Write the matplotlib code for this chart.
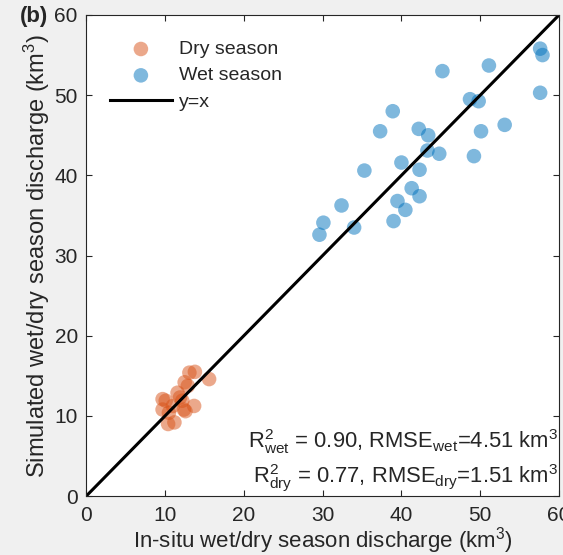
import matplotlib
matplotlib.use("Agg")
from matplotlib import pyplot as plt

# Wet season points (in-situ, simulated), km3
wet_obs = [57.6, 57.9, 57.6, 51.1, 45.2, 48.7, 49.8, 38.9, 37.3, 42.2, 43.4, 50.1, 53.1, 43.3,
           44.8, 49.2, 40.0, 35.3, 42.3, 41.3, 39.5, 42.3, 40.5, 32.4, 39.0, 30.1, 34.0, 29.6]
wet_sim = [55.8, 55.0, 50.3, 53.7, 53.0, 49.5, 49.25, 48.0, 45.5, 45.8, 45.0, 45.5, 46.3, 43.1,
           42.7, 42.4, 41.6, 40.6, 40.7, 38.4, 36.8, 37.4, 35.7, 36.25, 34.3, 34.1, 33.5, 32.6]

# Dry season points
dry_obs = [13.1, 13.8, 15.6, 12.5, 12.9, 11.6, 9.7, 10.1, 12.2, 11.0, 9.7, 13.7, 12.6, 10.5,
           11.2, 10.4, 12.4, 11.9]
dry_sim = [15.4, 15.5, 14.6, 14.2, 13.75, 12.9, 12.1, 11.9, 11.9, 11.25, 10.8, 11.25, 10.6, 10.4,
           9.2, 9.0, 10.8, 12.3]

ticks = [0, 10, 20, 30, 40, 50, 60]

plt.rcParams["font.family"] = ["Liberation Sans", "DejaVu Sans"]
plt.rcParams["mathtext.fontset"] = "custom"
plt.rcParams["mathtext.rm"] = "Liberation Sans"
plt.rcParams["mathtext.it"] = "Liberation Sans:italic"
plt.rcParams["text.color"] = "#262626"
plt.rcParams["axes.labelcolor"] = "#262626"
plt.rcParams["xtick.color"] = "#262626"
plt.rcParams["ytick.color"] = "#262626"

fig = plt.figure(figsize=(5.63, 5.55), dpi=100, facecolor="#f0f0f0")
ax = fig.add_axes([0.153, 0.106, 0.840, 0.867])

ax.scatter(dry_obs, dry_sim, s=110, color="#D95319", alpha=0.5, edgecolors="none",
           label="Dry season")
ax.scatter(wet_obs, wet_sim, s=110, color="#0072BD", alpha=0.5, edgecolors="none",
           label="Wet season")
ax.plot([0, 60], [0, 60], color="black", lw=2.2, label="y=x")

ax.set_xlim(0, 60)
ax.set_ylim(0, 60)
ax.set_xticks(ticks)
ax.set_yticks(ticks)
ax.tick_params(direction="in", top=True, right=True, length=4, labelsize=15, width=0.8)
ax.tick_params(axis="x", pad=7)
ax.tick_params(axis="y", pad=6)
for sp in ax.spines.values():
    sp.set_color("#262626")
    sp.set_linewidth(0.8)

ax.set_xlabel("In-situ wet/dry season discharge (km$^3$)", fontsize=16, labelpad=0)
ax.set_ylabel("Simulated wet/dry season discharge (km$^3$)", fontsize=17, labelpad=2)

ax.legend(loc="upper left", frameon=False, fontsize=14, bbox_to_anchor=(0.05, 0.947),
          handlelength=3.2, handletextpad=0.35, borderaxespad=0, borderpad=0,
          labelspacing=0.45)

ax.text(0.998, 0.10, r"R$^2_{\rm wet}$ = 0.90, RMSE$_{\rm wet}$=4.51 km$^3$",
        transform=ax.transAxes, ha="right", va="baseline", fontsize=15.8)
ax.text(0.998, 0.027, r"R$^2_{\rm dry}$ = 0.77, RMSE$_{\rm dry}$=1.51 km$^3$",
        transform=ax.transAxes, ha="right", va="baseline", fontsize=15.8)

fig.text(0.035, 0.97, "(b)", fontsize=16, fontweight="bold", ha="left", va="center")

plt.savefig("out.png", dpi=100, facecolor=fig.get_facecolor())
